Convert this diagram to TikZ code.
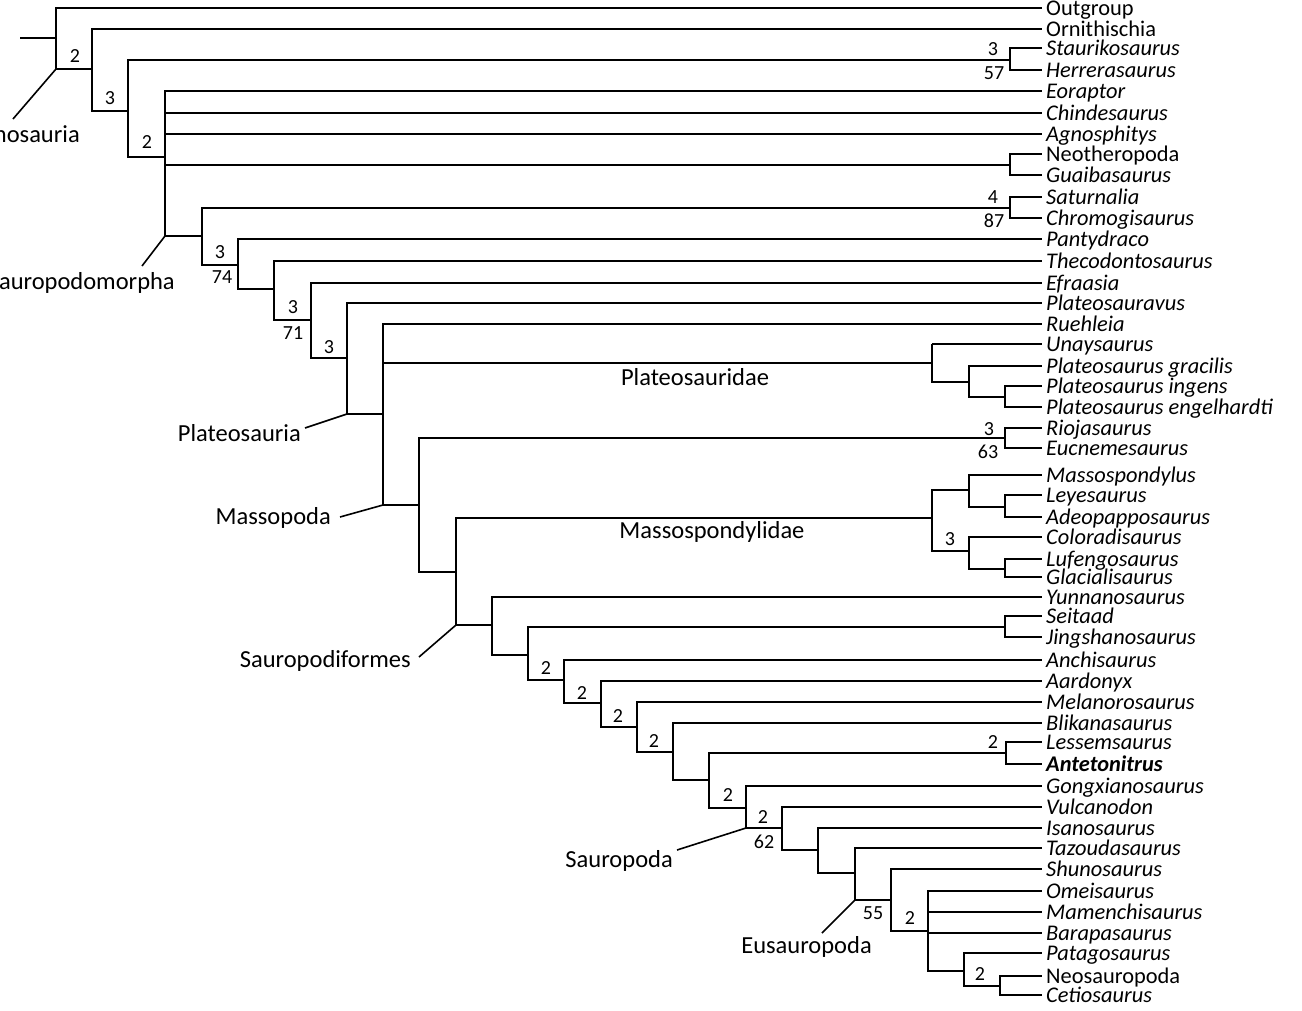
\documentclass[tikz,border=0pt]{standalone}
\usepackage{fontspec}
\setmainfont{Carlito}
\tikzset{
  branch/.style={line width=2.5pt},
  thinbranch/.style={line width=1.3pt},
  pointer/.style={line width=1.6pt},
  taxon/.style={anchor=west, inner xsep=4pt, inner ysep=0pt, text height=14pt, text depth=0pt,
    font=\fontsize{22.4}{26}\selectfont\itshape},
  clade/.style={inner sep=0pt, font=\fontsize{24.5}{29}\selectfont},
  support/.style={inner sep=0pt, font=\fontsize{20}{24}\selectfont},
}
\begin{document}
\begin{tikzpicture}[x=1pt,y=-1pt]
        \useasboundingbox (0,0) rectangle (1302,1010);
        % terminal taxa
        \foreach \n/\y/\lbl in {out/8/{\upshape Outgroup}, orn/29/{\upshape Ornithischia},
            sta/48/Staurikosaurus, her/70/Herrerasaurus, eor/91/Eoraptor, chi/113/Chindesaurus,
            agn/134/Agnosphitys, neo/154/{\upshape Neotheropoda}, gua/175/Guaibasaurus,
            sat/197/Saturnalia, chr/218/Chromogisaurus, pan/239/Pantydraco, the/261/Thecodontosaurus,
            efr/283/Efraasia, pla/303/Plateosauravus, rue/324/Ruehleia, una/344/Unaysaurus,
            pgr/366/Plateosaurus gracilis, pin/386/Plateosaurus ingens, pen/407/Plateosaurus engelhardti,
            rio/428/Riojasaurus, euc/448/Eucnemesaurus, mas/475/Massospondylus, ley/495/Leyesaurus,
            ade/517/Adeopapposaurus, col/537/Coloradisaurus, luf/559/Lufengosaurus, gla/577/Glacialisaurus,
            yun/597/Yunnanosaurus, sei/616/Seitaad, jin/637/Jingshanosaurus, anc/660/Anchisaurus,
            aar/681/Aardonyx, mel/702/Melanorosaurus, bli/723/Blikanasaurus, les/742/Lessemsaurus,
            ant/764/{\bfseries Antetonitrus}, gon/786/Gongxianosaurus, vul/807/Vulcanodon,
            isa/828/Isanosaurus, taz/848/Tazoudasaurus, shu/869/Shunosaurus, ome/891/Omeisaurus,
            mam/912/Mamenchisaurus, bar/933/Barapasaurus, pat/953/Patagosaurus,
            nsp/976/{\upshape Neosauropoda}, cet/995/Cetiosaurus}
            \node[taxon] (\n) at (1042,\y) {\lbl};
        % internal nodes
        \coordinate (base) at (20,38);
        \coordinate (root) at (56,38);
        \coordinate (dino) at (92,69);
        \coordinate (saur) at (128,111);
        \coordinate (herr) at (1010,60);
        \coordinate (poly) at (165,157);
        \coordinate (neog) at (1010,165);
        \coordinate (spm) at (202,236);
        \coordinate (satc) at (1010,208);
        \coordinate (n6) at (238,265);
        \coordinate (n7) at (274,289);
        \coordinate (n8) at (311,320);
        \coordinate (n9) at (347,358);
        \coordinate (n10) at (383,414);
        \coordinate (pltd) at (932,363);
        \coordinate (pl1) at (969,382);
        \coordinate (pl2) at (1005,397);
        \coordinate (mass) at (419,505);
        \coordinate (rioc) at (1005,438);
        \coordinate (n12) at (456,572);
        \coordinate (msd) at (932,518);
        \coordinate (ms1) at (969,490);
        \coordinate (ms2) at (969,551);
        \coordinate (ms3) at (1005,507);
        \coordinate (ms4) at (1005,569);
        \coordinate (sfm) at (492,625);
        \coordinate (n14) at (528,655);
        \coordinate (seij) at (1005,627);
        \coordinate (n15) at (564,680);
        \coordinate (n16) at (601,703);
        \coordinate (n17) at (637,727);
        \coordinate (n18) at (673,752);
        \coordinate (n19) at (709,780);
        \coordinate (lesa) at (1006,753);
        \coordinate (n20) at (746,808);
        \coordinate (n21) at (782,828);
        \coordinate (n22) at (818,850);
        \coordinate (n23) at (855,873);
        \coordinate (n24) at (891,900);
        \coordinate (n25) at (928,931);
        \coordinate (n26) at (964,971);
        \coordinate (n27) at (1000,986);
        % branches
        \draw[branch] (base) -- (root);
        \draw[branch] (root) |- (out.west);
        \draw[branch] (root) |- (dino);
        \draw[branch] (dino) |- (orn.west);
        \draw[branch] (dino) |- (saur);
        \draw[branch] (saur) |- (herr);
        \draw[branch] (herr) |- (sta.west);
        \draw[branch] (herr) |- (her.west);
        \draw[branch] (saur) |- (poly);
        \draw[thinbranch] (poly) |- (eor.west);
        \draw[branch] (poly) |- (chi.west);
        \draw[branch] (poly) |- (agn.west);
        \draw[branch] (poly) |- (neog);
        \draw[branch] (neog) |- (neo.west);
        \draw[branch] (neog) |- (gua.west);
        \draw[branch] (poly) |- (spm);
        \draw[branch] (spm) |- (satc);
        \draw[branch] (satc) |- (sat.west);
        \draw[branch] (satc) |- (chr.west);
        \draw[branch] (spm) |- (n6);
        \draw[branch] (n6) |- (pan.west);
        \draw[branch] (n6) |- (n7);
        \draw[branch] (n7) |- (the.west);
        \draw[branch] (n7) |- (n8);
        \draw[branch] (n8) |- (efr.west);
        \draw[branch] (n8) |- (n9);
        \draw[branch] (n9) |- (pla.west);
        \draw[branch] (n9) |- (n10);
        \draw[branch] (n10) |- (rue.west);
        \draw[branch] (n10) |- (pltd);
        \draw[thinbranch] (pltd) -- (pltd |- una.west);
        \draw[branch] (pltd |- una.west) -- (una.west);
        \draw[thinbranch] (pltd) |- (pl1);
        \draw[branch] (pl1) |- (pgr.west);
        \draw[branch] (pl1) |- (pl2);
        \draw[branch] (pl2) |- (pin.west);
        \draw[branch] (pl2) |- (pen.west);
        \draw[branch] (n10) |- (mass);
        \draw[branch] (mass) |- (rioc);
        \draw[branch] (rioc) |- (rio.west);
        \draw[branch] (rioc) |- (euc.west);
        \draw[branch] (mass) |- (n12);
        \draw[branch] (n12) |- (msd);
        \draw[branch] (msd) |- (ms1);
        \draw[branch] (ms1) |- (mas.west);
        \draw[branch] (ms1) |- (ms3);
        \draw[branch] (ms3) |- (ley.west);
        \draw[branch] (ms3) |- (ade.west);
        \draw[branch] (msd) |- (ms2);
        \draw[branch] (ms2) |- (col.west);
        \draw[branch] (ms2) |- (ms4);
        \draw[branch] (ms4) |- (luf.west);
        \draw[branch] (ms4) |- (gla.west);
        \draw[branch] (n12) |- (sfm);
        \draw[branch] (sfm) |- (yun.west);
        \draw[branch] (sfm) |- (n14);
        \draw[branch] (n14) |- (seij);
        \draw[branch] (seij) |- (sei.west);
        \draw[branch] (seij) |- (jin.west);
        \draw[branch] (n14) |- (n15);
        \draw[branch] (n15) |- (anc.west);
        \draw[branch] (n15) |- (n16);
        \draw[branch] (n16) |- (aar.west);
        \draw[branch] (n16) |- (n17);
        \draw[branch] (n17) |- (mel.west);
        \draw[branch] (n17) |- (n18);
        \draw[branch] (n18) |- (bli.west);
        \draw[branch] (n18) |- (n19);
        \draw[branch] (n19) |- (lesa);
        \draw[branch] (lesa) |- (les.west);
        \draw[branch] (lesa) |- (ant.west);
        \draw[branch] (n19) |- (n20);
        \draw[branch] (n20) |- (gon.west);
        \draw[branch] (n20) |- (n21);
        \draw[branch] (n21) |- (vul.west);
        \draw[branch] (n21) |- (n22);
        \draw[branch] (n22) |- (isa.west);
        \draw[branch] (n22) |- (n23);
        \draw[branch] (n23) |- (taz.west);
        \draw[branch] (n23) |- (n24);
        \draw[branch] (n24) |- (shu.west);
        \draw[branch] (n24) |- (n25);
        \draw[branch] (n25) |- (ome.west);
        \draw[branch] (n25) |- (mam.west);
        \draw[branch] (n25) |- (bar.west);
        \draw[branch] (n25) |- (n26);
        \draw[branch] (n26) |- (pat.west);
        \draw[branch] (n26) |- (n27);
        \draw[branch] (n27) |- (nsp.west);
        \draw[branch] (n27) |- (cet.west);
        % support values
        \foreach \x/\y/\v [count=\i] in {75/56/2, 110/98/3, 147/142/2, 993/49/3, 994/73/57,
            993/197/4, 994/221/87, 220/252/3, 222/277/74, 293/307/3, 293/333/71, 329/347/3,
            989/429/3, 988/452/63, 950/539/3, 546/668/2, 582/693/2, 618/716/2, 654/741/2,
            993/742/2, 728/795/2, 763/817/2, 764/842/62, 873/913/55, 910/918/2, 980/974/2}
            \node[support] (sv\i) at (\x,\y) {\v};
        % clade names
        \node[clade, anchor=base east] (dinolab) at (80,142) {Dinosauria};
        \node[clade, anchor=base east] (spmlab) at (175,289) {Sauropodomorpha};
        \node[clade, anchor=base east] (platlab) at (301,441) {Plateosauria};
        \node[clade, anchor=base east] (masslab) at (331,524) {Massopoda};
        \node[clade, anchor=base east] (sfmlab) at (411,667) {Sauropodiformes};
        \node[clade, anchor=base east] (sauplab) at (673,867) {Sauropoda};
        \node[clade, anchor=base east] (eusplab) at (872,953) {Eusauropoda};
        \node[clade, anchor=base] (pltdlab) at (695,385) {Plateosauridae};
        \node[clade, anchor=base] (msdlab) at (712,538) {Massospondylidae};
        \coordinate (dinoend) at (13,119);
        \coordinate (spmend) at (142,266);
        \coordinate (platend) at (305,428);
        \coordinate (massend) at (340,517);
        \coordinate (sfmend) at (419,657);
        \coordinate (saupend) at (677,850);
        \coordinate (euspend) at (822,933);
        \draw[pointer] (root |- dino) -- (dinoend);
        \draw[pointer] (poly |- spm) -- (spmend);
        \draw[pointer] (n9 |- n10) -- (platend);
        \draw[pointer] (n10 |- mass) -- (massend);
        \draw[pointer] (n12 |- sfm) -- (sfmend);
        \draw[pointer] (n20 |- n21) -- (saupend);
        \draw[pointer] (n23 |- n24) -- (euspend);
    \end{tikzpicture}
\end{document}
